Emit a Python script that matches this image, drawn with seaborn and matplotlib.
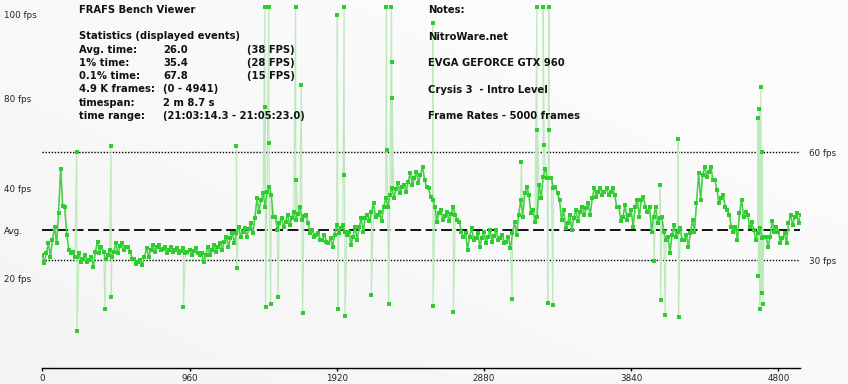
import numpy as np
import pandas as pd
import matplotlib
matplotlib.use("Agg")
import matplotlib.pyplot as plt
import seaborn as sns

# ---------------- data ----------------
n_frames = 4941
frame_step = 40          # band samples every 40 frames (upper edge, lower edge, centre)

# upper edge of the dense frame-rate band (fps)
band_hi = [31.5, 34.7, 39.3, 55.5, 37.0, 32.4, 31.9, 31.5, 31.0, 35.2, 32.4, 32.9, 34.7, 34.7, 33.8,
           30.5, 30.1, 33.3, 34.2, 34.2, 33.8, 33.8, 33.3, 33.3, 32.9, 33.3, 31.9, 33.8, 34.2, 34.7, 36.6,
           37.5, 39.3, 38.9, 40.3, 47.2, 48.6, 50.5, 42.1, 41.7, 42.6, 43.5, 44.9, 42.6, 38.4, 37.5,
           37.0, 36.1, 39.8, 39.8, 38.0, 39.3, 41.7, 42.6, 45.8, 43.5, 47.2, 50.0, 51.4, 50.9, 54.2,
           54.6, 56.0, 50.0, 44.9, 44.0, 43.5, 44.9, 40.7, 37.5, 38.9, 37.5, 38.0, 38.4, 38.4, 37.0,
           36.6, 40.7, 46.8, 50.5, 44.0, 50.9, 55.5, 52.8, 48.6, 44.0, 42.6, 44.0, 44.9, 45.8, 50.0, 50.0,
           50.0, 50.0, 44.9, 45.3, 44.0, 46.8, 47.7, 44.9, 44.9, 42.1, 36.6, 39.8, 38.9, 37.0, 41.2,
           54.2, 56.0, 56.0, 49.5, 48.1, 42.6, 39.3, 46.8, 42.6, 38.4, 38.9, 36.6, 40.8, 38.0, 37.5, 42.6, 43.1]

# lower edge of the band (fps)
band_lo = [29.3, 31.0, 34.7, 45.0, 33.0, 31.0, 29.6, 29.6, 28.2, 31.9, 30.5, 31.0, 31.9, 32.9, 32.4,
           29.0, 28.7, 31.0, 32.4, 32.9, 31.9, 32.4, 31.9, 31.9, 31.5, 31.9, 29.6, 31.5, 32.4, 32.9, 33.8,
           34.7, 36.6, 36.6, 37.5, 43.5, 44.9, 48.1, 38.4, 39.3, 39.8, 41.2, 41.2, 40.3, 36.6, 35.6,
           35.2, 33.8, 37.5, 38.0, 34.2, 35.6, 38.0, 40.8, 42.1, 40.8, 44.9, 47.2, 48.6, 49.1, 50.9,
           51.4, 52.3, 47.7, 40.7, 41.2, 40.8, 42.6, 38.0, 32.9, 35.6, 33.8, 34.7, 35.2, 35.6, 34.7,
           33.3, 37.0, 42.1, 48.1, 40.7, 47.2, 52.8, 50.0, 46.8, 38.9, 38.4, 40.8, 42.6, 42.6, 47.7, 48.1,
           48.1, 48.1, 40.8, 41.2, 39.3, 42.1, 44.9, 38.0, 40.3, 38.0, 31.9, 36.6, 35.6, 33.8, 38.0,
           46.8, 53.2, 52.3, 45.8, 44.9, 39.3, 35.6, 42.1, 39.3, 35.6, 36.1, 33.8, 38.0, 34.7, 34.7, 39.8, 40.3]

# centre of the band (fps)
band_mid = [31.9, 35.6, 43.1, 44.9, 31.9, 31.0, 30.5, 30.1, 32.4, 33.8, 31.5, 32.4, 34.0, 33.6, 30.5,
            29.6, 31.0, 32.9, 33.6, 33.2, 33.0, 32.9, 32.7, 32.3, 32.6, 31.5, 31.5, 33.0, 33.6, 35.2, 36.1,
            37.7, 38.0, 38.6, 41.7, 46.8, 49.1, 42.1, 40.3, 40.7, 41.7, 42.9, 42.3, 37.5, 37.0, 35.6,
            34.9, 37.0, 38.9, 37.0, 36.6, 39.2, 41.7, 43.5, 42.6, 44.9, 48.1, 49.7, 50.5, 51.8, 52.8,
            53.7, 50.5, 46.8, 43.1, 42.3, 42.9, 41.2, 36.6, 36.6, 36.1, 36.1, 36.6, 36.8, 36.1, 35.2,
            37.5, 42.6, 48.6, 43.1, 42.1, 53.2, 52.8, 50.5, 41.2, 40.3, 41.7, 43.5, 44.4, 47.2, 49.1, 49.1,
            49.1, 44.9, 42.1, 42.6, 44.9, 46.8, 43.5, 42.1, 41.7, 35.6, 37.0, 38.0, 35.6, 37.5, 45.8,
            53.7, 54.6, 52.3, 47.2, 44.0, 38.0, 43.1, 43.5, 40.7, 37.5, 36.6, 36.6, 39.2, 36.1, 40.3, 41.9, 42.6]

# isolated spikes (frame index, fps)
spike_frames = [224, 226, 409, 448, 450, 920, 1266, 1268, 1452, 1454, 1456, 1476, 1478, 1489, 1537,
                1652, 1656, 1688, 1698, 1924, 1928, 1968, 1970, 1974, 2146, 2244, 2246, 2258, 2277,
                2279, 2281, 2546, 2548, 2681, 3064, 3123, 3225, 3229, 3266, 3273, 3296, 3303, 3305,
                3329, 3990, 4030, 4032, 4062, 4147, 4149, 4666, 4670, 4676, 4680, 4686, 4690, 4696, 4698]
spike_fps = [60.0, 10.4, 16.5, 61.8, 19.7, 17.1, 61.8, 27.8, 100.5, 72.6, 17.1, 100.5, 62.6, 17.9, 19.9,
             100.5, 52.3, 78.7, 15.5, 98.2, 16.6, 100.5, 53.8, 14.6, 20.5, 100.5, 60.6, 17.9, 100.5,
             85.0, 75.2, 96.0, 17.4, 15.6, 19.3, 57.2, 100.5, 66.2, 100.5, 62.0, 18.1, 100.5, 66.2,
             17.7, 29.9, 50.8, 19.0, 14.9, 63.6, 14.2, 69.6, 25.7, 72.1, 16.5, 78.2, 21.0, 60.2, 18.0]

avg_fps = 38.46
ref_fps = [60, 30]
x_ticks = [0, 960, 1920, 2880, 3840, 4800]

stat_labels = ["Avg. time:", "1% time:", "0.1% time:", "4.9 K frames:", "timespan:", "time range:"]
stat_values = ["26.0", "35.4", "67.8", "(0 - 4941)", "2 m 8.7 s", "(21:03:14.3 - 21:05:23.0)"]
stat_fps = ["(38 FPS)", "(28 FPS)", "(15 FPS)", "", "", ""]
notes = ["Notes:", "NitroWare.net", "EVGA GEFORCE GTX 960", "Crysis 3  - Intro Level",
         "Frame Rates - 5000 frames"]

# ---------------- build tables ----------------
base_f = np.arange(len(band_hi)) * frame_step
band = pd.concat([
    pd.DataFrame({"frame": base_f, "fps": band_hi}),
    pd.DataFrame({"frame": base_f + 13, "fps": band_lo}),
    pd.DataFrame({"frame": base_f + 26, "fps": band_mid}),
]).sort_values("frame", kind="mergesort").reset_index(drop=True)
df = pd.concat([band, pd.DataFrame({"frame": spike_frames, "fps": spike_fps})]
               ).sort_values("frame", kind="mergesort").reset_index(drop=True)

# ---------------- figure ----------------
W, H = 848, 384
fig = plt.figure(figsize=(W / 100, H / 100), dpi=100)

# subtle background gradient
bg = fig.add_axes([0, 0, 1, 1], zorder=-10)
gx, gy = np.meshgrid(np.linspace(0, 1, 200), np.linspace(0, 1, 100))
grad = 0.955 + 0.03 * np.clip(0.6 * gx + 0.6 * (1 - gy), 0, 1)
bg.imshow(grad, cmap="gray", vmin=0, vmax=1, aspect="auto", extent=[0, 1, 0, 1])
bg.axis("off")


def px(x, y):
    return x / W, 1 - y / H


x0, x1 = 42.3, 800
y_bottom = 368.3
ax = fig.add_axes([x0 / W, (H - y_bottom) / H, (x1 - x0) / W, y_bottom / H])
ax.patch.set_alpha(0)

# thin light-green connecting line through every frame (shows the spikes)
sns.lineplot(data=df, x="frame", y="fps", estimator=None, sort=False, color="#bdeabd",
             linewidth=0.9, ax=ax, zorder=2)
# dense main band
sns.lineplot(data=band, x="frame", y="fps", estimator=None, sort=False, color="#44d044",
             linewidth=1.1, ax=ax, zorder=3)
sns.scatterplot(data=df, x="frame", y="fps", marker="s", s=7, linewidth=0, color="#2ecc2e",
                ax=ax, zorder=4)

ax.axhline(ref_fps[0], color="black", lw=1.0, ls=(0, (1, 1.2)), zorder=1)
ax.axhline(ref_fps[1], color="black", lw=1.0, ls=(0, (1, 1.2)), zorder=1)
ax.axhline(avg_fps, color="black", lw=1.3, ls=(0, (6, 2.5)), zorder=1)

ax.set_xlim(0, n_frames)
ax.set_ylim(0, y_bottom / 3.6)
for s in ["top", "right", "left"]:
    ax.spines[s].set_visible(False)
ax.spines["bottom"].set_color("black")
ax.spines["bottom"].set_linewidth(1.0)
ax.set_yticks([])
ax.set_xticks(x_ticks)
ax.set_xticklabels([str(t) for t in x_ticks])
ax.tick_params(axis="x", direction="out", length=2.5, width=1, color="black", pad=1.5,
               labelsize=6.3, labelcolor="#222222")
ax.set_xlabel("")
ax.set_ylabel("")

fam = ["DejaVu Sans"]
bold = dict(fontsize=7.2, fontweight="bold", color="#111111", va="center", family=fam)
fig.text(*px(79, 10), "FRAFS Bench Viewer", **bold)
fig.text(*px(79, 36), "Statistics (displayed events)", **bold)
ys = [50, 63, 76, 89.5, 103, 116]
for y, a, b, c in zip(ys, stat_labels, stat_values, stat_fps):
    fig.text(*px(79, y), a, **bold)
    fig.text(*px(163, y), b, **bold)
    if c:
        fig.text(*px(247, y), c, **bold)
for y, t in zip([10, 36.5, 62.5, 90, 116], notes):
    fig.text(*px(428, y), t, **bold)

norm = dict(fontsize=6.3, color="#222222", va="center", family=fam)
for y, t in [(16, "100 fps"), (99, "80 fps"), (189, "40 fps"), (231, "Avg."), (279, "20 fps")]:
    fig.text(*px(4, y), t, **norm)
for y, t in [(153, "60 fps"), (261, "30 fps")]:
    fig.text(*px(809, y), t, **norm)

fig.savefig("out.png", dpi=100)
